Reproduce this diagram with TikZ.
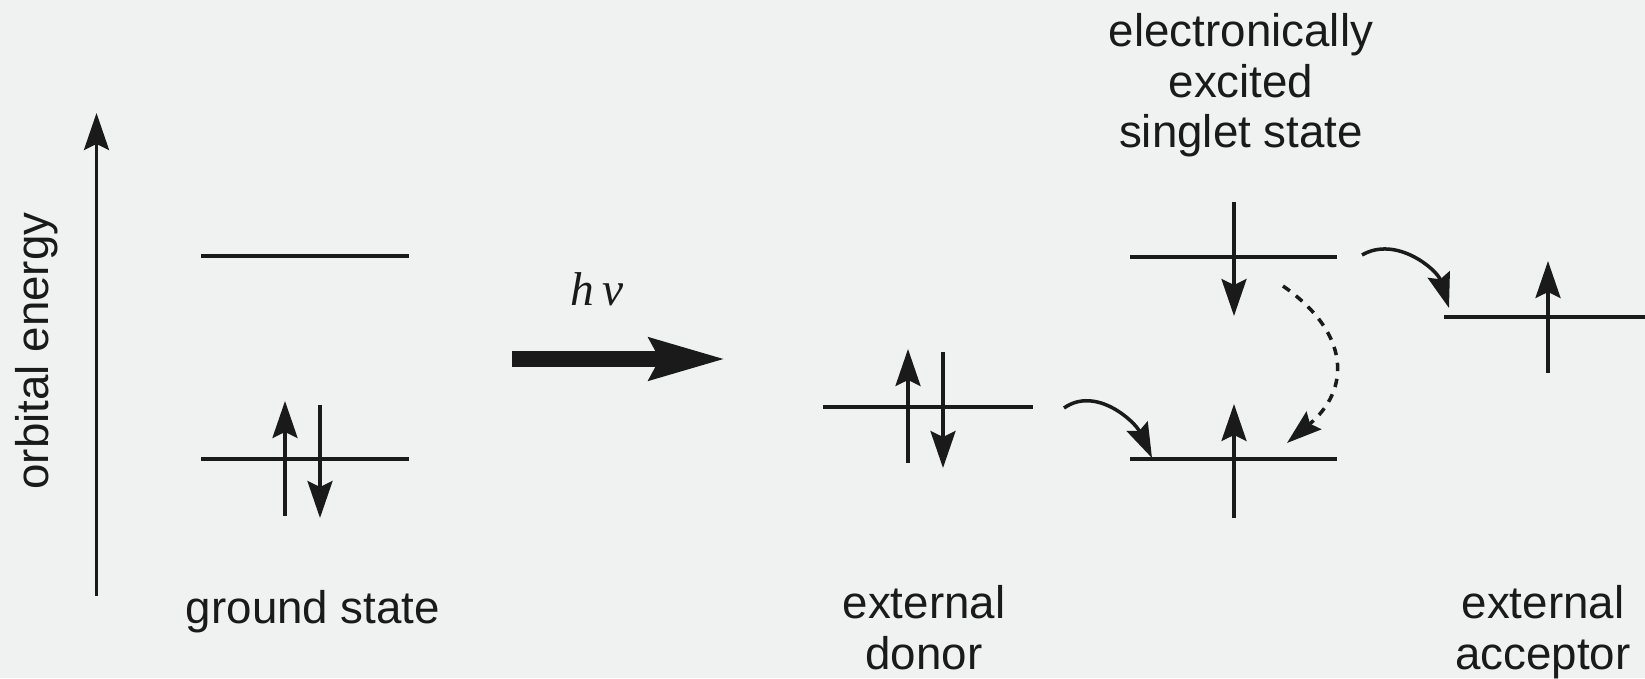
\documentclass[tikz,border=0pt]{standalone}
\usepackage{fontspec}
\setmainfont{Liberation Sans}
\newfontfamily\serifit{Liberation Serif}
\usetikzlibrary{arrows.meta}
\definecolor{fondogris}{RGB}{240,241,241}
\definecolor{tinta}{RGB}{26,26,26}

\tikzset{
  nivel/.style={draw=tinta, line width=1pt},
  espin/.style={draw=tinta, line width=1pt, -{Stealth[length=3.7mm,width=2.5mm,inset=0.6mm]}},
  salto/.style={draw=tinta, line width=1pt, -{Stealth[length=3.5mm,width=2.3mm,inset=0.5mm]}},
  etiqueta/.style={inner sep=0pt, align=center, text=tinta, font=\fontsize{13}{14.3}\selectfont}
}

\begin{document}
\begin{tikzpicture}
    \useasboundingbox (0,0) rectangle (16.45,6.78);
    \fill[fondogris] (0,0) rectangle (16.45,6.78);

    % eje de energia
    \coordinate (ejeA) at (0.965,0.82);
    \coordinate (ejeB) at (0.965,5.65);
    \draw[espin] (ejeA) -- (ejeB);
    \node[etiqueta, rotate=90] (eje) at (0.37,3.27) {orbital energy};

    % estado fundamental
    \draw[nivel] (2.01,4.22) -- (4.09,4.22);
    \draw[nivel] (2.01,2.19) -- (4.09,2.19);
    \draw[espin] (2.85,1.62) -- (2.85,2.77);
    \draw[espin] (3.20,2.73) -- (3.20,1.60);
    \node[etiqueta, anchor=base] (fund) at (3.13,0.55) {ground state};

    % excitacion con luz
    \node[inner sep=0pt, anchor=base, text=tinta, font=\serifit\itshape\fontsize{13.5}{15}\selectfont] (luz) at (5.97,3.73) {h\,ν};
    \coordinate (luzA) at (5.12,3.19);
    \coordinate (luzB) at (7.26,3.19);
    \draw[draw=tinta, line width=4.6pt, -{Stealth[length=7.5mm,width=4mm,inset=0.9mm]}] (luzA) -- (luzB);

    % donador externo
    \draw[nivel] (8.23,2.71) -- (10.33,2.71);
    \draw[espin] (9.08,2.15) -- (9.08,3.29);
    \draw[espin] (9.43,3.26) -- (9.43,2.10);
    \node[etiqueta, anchor=north] (donor) at (9.24,0.93) {external\\donor};

    % estado excitado singlete
    \draw[nivel] (11.30,4.21) -- (13.37,4.21);
    \draw[nivel] (11.30,2.19) -- (13.37,2.19);
    \draw[espin] (12.34,4.76) -- (12.34,3.62);
    \draw[espin] (12.34,1.60) -- (12.34,2.74);
    \node[etiqueta, anchor=north] (excit) at (12.41,6.65) {electronically\\excited\\singlet state};

    % aceptor externo
    \draw[nivel] (14.44,3.61) -- (16.45,3.61);
    \draw[espin] (15.48,3.05) -- (15.48,4.17);
    \node[etiqueta, anchor=north] (acceptor) at (15.43,0.93) {external\\acceptor};

    % transferencias de electron
    \coordinate (d1) at (10.64,2.70);
    \coordinate (d2) at (11.52,2.20);
    \draw[salto] (d1) to[out=35, in=115] (d2);
    \coordinate (a1) at (13.62,4.23);
    \coordinate (a2) at (14.49,3.70);
    \draw[salto] (a1) to[out=30, in=107] (a2);
    \coordinate (r1) at (12.83,3.92);
    \coordinate (r2) at (12.87,2.35);
    \draw[salto, dash pattern=on 2.4pt off 2.2pt] (r1) to[out=-35, in=40, looseness=1.35] (r2);
\end{tikzpicture}
\end{document}
